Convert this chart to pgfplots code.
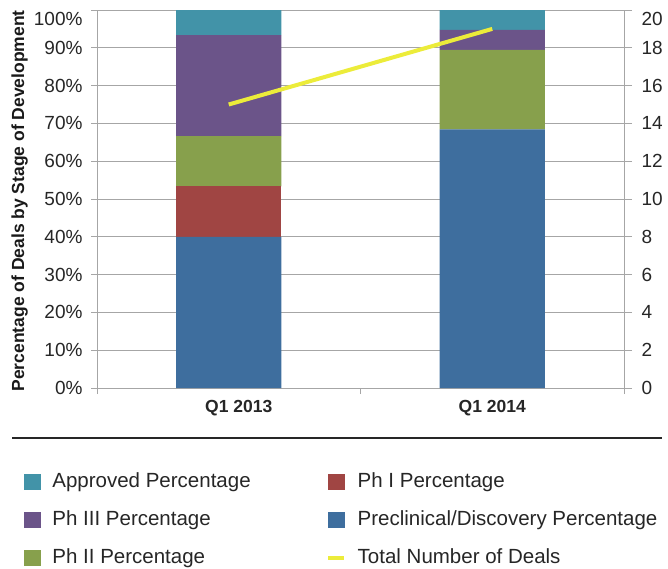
\documentclass[border=0pt]{standalone}
\usepackage{pgfplots}
\pgfplotsset{compat=1.18}
\usepackage{pgfplotstable}
\usepackage{fontspec}
\setmainfont{Liberation Sans}
\definecolor{cApp}{RGB}{66,147,168}
\definecolor{cPh1}{RGB}{160,69,67}
\definecolor{cPh3}{RGB}{107,84,137}
\definecolor{cPre}{RGB}{62,110,158}
\definecolor{cPh2}{RGB}{135,160,76}
\definecolor{cTot}{RGB}{236,236,58}
\definecolor{cGrid}{RGB}{166,166,166}
\definecolor{cTxt}{RGB}{38,38,38}

\pgfplotstableread{
x pre ph1 ph2 ph3 app
0 40.00 13.33 13.33 26.67 6.67
1 68.42 0.00 21.05 5.26 5.26
}\stages

\pgfplotstableread{
x total
0 15
1 19
}\deals

\begin{document}
\begin{tikzpicture}
\useasboundingbox (0,0) rectangle (668bp,-569bp);
\pgfplotsset{common/.style={
  at={(97bp,-388bp)}, anchor=south west, scale only axis,
  width=527bp, height=378bp, xmin=-0.5, xmax=1.5,
  tick align=outside, major tick length=6bp,
  axis line style={cGrid, line width=0.8bp},
  tick style={cGrid, line width=0.8bp},
  ticklabel style={font=\fontsize{19bp}{22bp}\selectfont, text=cTxt},
}}
\begin{axis}[common, ybar stacked, bar width=0.4, ymin=0, ymax=100,
  ytick={0,10,20,30,40,50,60,70,80,90},
  yticklabels={0\%,10\%,20\%,30\%,40\%,50\%,60\%,70\%,80\%,90\%},
  yticklabel style={xshift=-5bp},
  extra y ticks={100}, extra y tick labels={100\%},
  extra y tick style={yticklabel style={yshift=-9bp}},
  ymajorgrids, grid style={cGrid, line width=0.8bp},
  ytick pos=left, xtick pos=bottom,
  xtick={-0.5,0.5,1.5}, x tick label as interval,
  xticklabels={\hspace*{20bp}Q1 2013, Q1 2014},
  xticklabel style={font=\bfseries\fontsize{17.5bp}{20bp}\selectfont, text=cTxt, yshift=-3bp},
  ylabel={Percentage of Deals by Stage of Development},
  ylabel style={font=\bfseries\fontsize{17.5bp}{20bp}\selectfont, text=black!90,
    at={(axis description cs:-0.147,0.495)}, anchor=center},
]
\addplot[fill=cPre, draw=none] table[x=x, y=pre]{\stages};
\addplot[fill=cPh1, draw=none] table[x=x, y=ph1]{\stages};
\addplot[fill=cPh2, draw=none] table[x=x, y=ph2]{\stages};
\addplot[fill=cPh3, draw=none] table[x=x, y=ph3]{\stages};
\addplot[fill=cApp, draw=none] table[x=x, y=app]{\stages};
\end{axis}
\begin{axis}[common, ymin=0, ymax=20, axis x line=none, axis y line*=right,
  major tick length=8bp,
  ytick={0,2,4,6,8,10,12,14,16,18},
  yticklabels={0,2,4,6,8,10,12,14,16,18},
  yticklabel style={xshift=6bp},
  extra y ticks={20}, extra y tick labels={20},
  extra y tick style={yticklabel style={yshift=-9bp}},
  legend columns=2, legend cell align=left,
  legend style={at={(axis description cs:-0.1385,-0.2222)}, anchor=north west,
    draw=none, fill=none, inner sep=0pt, outer sep=0pt,
    font=\fontsize{20.5bp}{24bp}\selectfont, text=cTxt, row sep=18bp,
    nodes={inner sep=0pt, text height=15bp, text depth=5bp},
    /tikz/every odd column/.append style={column sep=12bp},
    /tikz/every even column/.append style={column sep=76bp}},
]
\addplot[cTot, line width=4bp, forget plot] table[x=x, y=total]{\deals};
\addlegendimage{legend image code/.code={\fill[cApp] (0bp,-7bp) rectangle (16bp,8bp);}}
\addlegendentry{Approved Percentage}
\addlegendimage{legend image code/.code={\fill[cPh1] (0bp,-7bp) rectangle (16bp,8bp);}}
\addlegendentry{Ph I Percentage}
\addlegendimage{legend image code/.code={\fill[cPh3] (0bp,-7bp) rectangle (16bp,8bp);}}
\addlegendentry{Ph III Percentage}
\addlegendimage{legend image code/.code={\fill[cPre] (0bp,-7bp) rectangle (16bp,8bp);}}
\addlegendentry{Preclinical/Discovery Percentage}
\addlegendimage{legend image code/.code={\fill[cPh2] (0bp,-7bp) rectangle (16bp,8bp);}}
\addlegendentry{Ph II Percentage}
\addlegendimage{legend image code/.code={\draw[cTot, line width=3bp] (0bp,0bp) -- (16bp,0bp);}}
\addlegendentry{Total Number of Deals}
\end{axis}
\draw[black!85, line width=1.5bp] (12bp,-438bp) -- (662bp,-438bp);
\end{tikzpicture}
\end{document}
